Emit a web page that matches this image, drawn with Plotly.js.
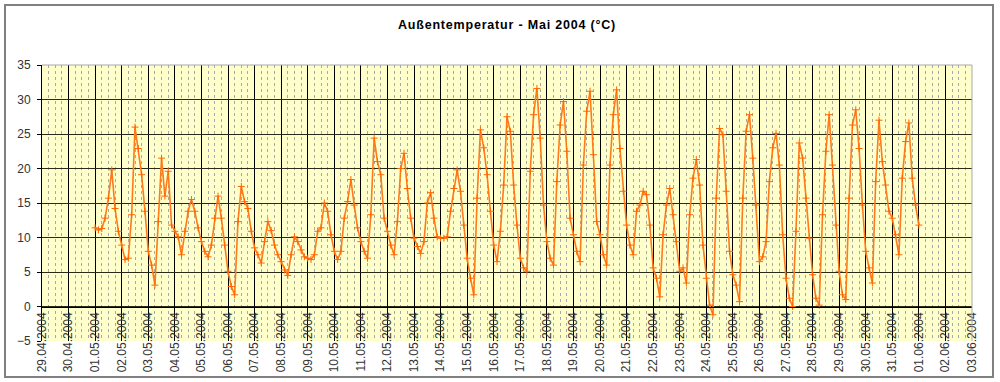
<!DOCTYPE html>
<html>
<head>
<meta charset="utf-8">
<script src="https://cdn.plot.ly/plotly-3.0.1.min.js"></script>
<style>
  html, body { margin: 0; padding: 0; background: #fff; }
  #wrap { position: relative; width: 1000px; height: 382px; }
  #chart { width: 1000px; height: 382px; }
  #frame { position: absolute; left: 4px; top: 4px; width: 990px; height: 374px;
           border: 2px solid #808080; pointer-events: none; box-sizing: border-box; }
  .gtitle { letter-spacing: 0.8px; }
</style>
</head>
<body>
<div id="wrap"><div id="chart"></div><div id="frame"></div></div>
<script>
// Measurement start and sampling step (hours)
const startTime = '2004-05-01T00:00:00Z';
const stepHours = 3;

// Outside temperature (°C): 8 samples per day, 01.05 .. 31.05, plus 01.06 00:00
const temps = [
  11.4, 11.1, 11.3, 12.8, 15.7, 19.8, 14.2, 10.9,   // 01.05
  8.9, 6.8, 7.0, 13.3, 26.0, 22.9, 19.1, 13.8,      // 02.05
  8.0, 6.0, 3.1, 12.3, 21.5, 16.0, 19.6, 11.8,      // 03.05
  10.9, 10.1, 7.5, 10.9, 13.8, 15.5, 13.8, 11.4,    // 04.05
  9.4, 8.0, 7.2, 8.9, 12.8, 16.0, 12.8, 8.9,        // 05.05
  5.1, 2.9, 1.7, 12.3, 17.4, 15.2, 14.2, 10.9,      // 06.05
  8.5, 7.5, 6.3, 9.4, 12.3, 11.0, 8.9, 7.5,         // 07.05
  6.5, 5.3, 4.5, 7.5, 10.1, 9.4, 8.2, 7.2,          // 08.05
  7.0, 6.8, 7.5, 10.9, 11.4, 15.0, 13.8, 10.4,      // 09.05
  8.0, 6.8, 8.0, 12.8, 15.2, 18.4, 14.7, 11.4,      // 10.05
  9.4, 8.0, 7.0, 13.3, 24.4, 21.0, 19.1, 12.8,      // 11.05
  10.9, 8.9, 7.5, 12.3, 20.0, 22.2, 17.1, 12.8,     // 12.05
  9.9, 8.7, 7.7, 9.4, 15.0, 16.5, 12.8, 10.1,       // 13.05
  9.9, 9.9, 10.1, 13.8, 17.1, 19.8, 16.7, 11.8,     // 14.05
  7.0, 4.1, 1.7, 15.7, 25.6, 23.0, 19.1, 13.8,      // 15.05
  8.9, 6.5, 10.9, 17.6, 27.5, 25.4, 17.6, 11.8,     // 16.05
  7.0, 5.6, 5.1, 19.6, 27.8, 31.6, 24.4, 14.7,      // 17.05
  9.4, 7.0, 6.0, 18.1, 26.3, 29.7, 22.5, 12.8,      // 18.05
  10.4, 8.0, 6.5, 20.5, 28.3, 31.2, 22.0, 12.3,     // 19.05
  10.4, 7.5, 6.0, 20.5, 27.8, 31.4, 22.9, 16.7,     // 20.05
  11.8, 8.9, 7.5, 13.8, 14.7, 16.7, 16.2, 11.8,     // 21.05
  5.6, 4.1, 1.4, 10.4, 14.7, 17.1, 13.3, 9.4,       // 22.05
  5.1, 5.6, 3.4, 13.3, 18.6, 21.3, 17.6, 8.9,       // 23.05
  4.1, 0.2, -1.2, 15.7, 25.8, 24.9, 16.7, 8.0,      // 24.05
  4.6, 3.1, 0.7, 15.7, 25.4, 27.8, 21.5, 14.7,      // 25.05
  6.5, 7.2, 9.4, 18.1, 23.0, 25.1, 20.5, 10.4,      // 26.05
  4.1, 1.2, 0.0, 10.9, 23.7, 21.5, 15.7, 9.9,       // 27.05
  4.6, 1.2, 0.2, 13.3, 22.5, 27.8, 20.5, 11.8,      // 28.05
  5.1, 1.7, 1.0, 15.7, 26.3, 28.5, 22.9, 14.7,      // 29.05
  8.0, 5.6, 3.4, 18.1, 27.0, 21.0, 17.6, 13.8,      // 30.05
  12.8, 10.4, 7.5, 18.6, 23.9, 26.6, 18.6, 14.7,    // 31.05
  11.8                                              // 01.06 00:00
];

// Axis ranges / ticks
const xRange = ['2004-04-29', '2004-06-03'];
const yTicks = [-5, 0, 5, 10, 15, 20, 25, 30, 35];
const chartTitle = 'Außentemperatur - Mai 2004 (°C)';

const t0 = Date.parse(startTime);
const times = temps.map((_, i) => new Date(t0 + i * stepHours * 3600000).toISOString().replace('T', ' ').slice(0, 19));

const FONT = 'Arial, "Liberation Sans", sans-serif';
const yMin = yTicks[0], yMax = yTicks[yTicks.length - 1];

const trace = {
  type: 'scatter',
  mode: 'lines+markers',
  x: times,
  y: temps,
  line: { color: '#FF7A1A', width: 1.6 },
  marker: { symbol: 'cross-thin', size: 5, line: { color: '#FF6600', width: 1 }, color: '#FF6600' },
  hoverinfo: 'x+y'
};

const layout = {
  width: 1000,
  height: 382,
  margin: { l: 42, r: 28, t: 65, b: 41, pad: 0 },
  paper_bgcolor: '#ffffff',
  plot_bgcolor: '#FFFFCC',
  showlegend: false,
  font: { family: FONT, size: 12, color: '#222' },
  title: {
    text: '<b>' + chartTitle + '</b>',
    font: { family: FONT, size: 12.5, color: '#000' },
    xref: 'container', x: 0.507, xanchor: 'center',
    yref: 'container', y: 1 - 25 / 382, yanchor: 'middle'
  },
  xaxis: {
    type: 'date',
    range: xRange,
    tick0: xRange[0],
    dtick: 86400000,
    tickformat: '%d.%m.%Y',
    tickangle: -90,
    anchor: 'free',
    position: (0 - yMin) / (yMax - yMin),
    showgrid: true,
    gridcolor: '#000000',
    gridwidth: 1,
    showline: true,
    linecolor: '#000000',
    linewidth: 1,
    ticks: 'inside',
    ticklen: 4,
    tickcolor: '#000000',
    tickfont: { family: FONT, size: 12, color: '#333' },
    zeroline: false,
    automargin: false,
    minor: { dtick: 6 * 3600000, showgrid: true, gridcolor: '#a8a8a8', griddash: '3px,3px', gridwidth: 1, ticks: '' }
  },
  yaxis: {
    range: [yMin, yMax],
    tickvals: yTicks,
    showgrid: true,
    gridcolor: '#2a2a1a',
    gridwidth: 1,
    showline: true,
    linecolor: '#000000',
    linewidth: 1,
    ticks: 'outside',
    ticklen: 4,
    tickcolor: '#000000',
    ticklabelstandoff: 4,
    tickfont: { family: FONT, size: 12, color: '#333' },
    zeroline: false,
    automargin: false
  },
  shapes: [
    { type: 'line', xref: 'paper', yref: 'paper', x0: 0, x1: 1, y0: 1, y1: 1, line: { color: '#a8a8a8', width: 1 }, layer: 'above' },
    { type: 'line', xref: 'paper', yref: 'paper', x0: 1, x1: 1, y0: 0, y1: 1, line: { color: '#a8a8a8', width: 1 }, layer: 'above' }
  ]
};

Plotly.newPlot('chart', [trace], layout, { displayModeBar: false, staticPlot: true });
</script>
</body>
</html>
